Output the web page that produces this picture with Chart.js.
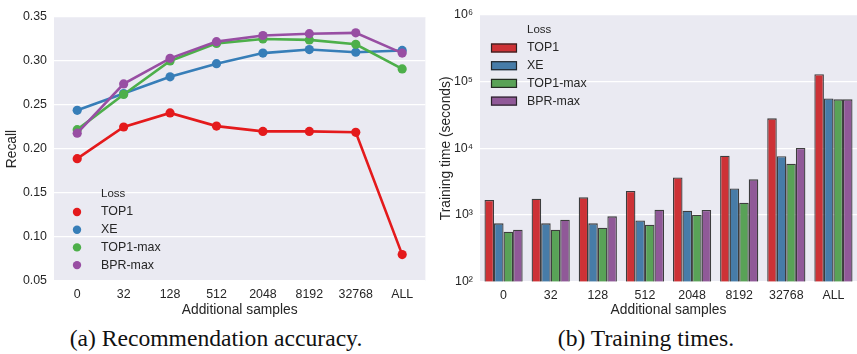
<!DOCTYPE html>
<html>
<head>
<meta charset="utf-8">
<script src="https://cdn.jsdelivr.net/npm/chart.js@4"></script>
<style>
  html, body { margin: 0; padding: 0; background: #ffffff; }
  body { width: 857px; height: 354px; position: relative; overflow: hidden; }
  .box { position: absolute; top: 0; }
  .cap { position: absolute; top: 327px; font-family: 'Liberation Serif', 'Times New Roman', serif; font-size: 23.6px; line-height: 23.6px; color: #111; white-space: nowrap; transform: translateX(-50%); }
</style>
</head>
<body>
<div class="box" style="left:0px;width:430px;height:320px;"><canvas id="c1" width="430" height="320"></canvas></div>
<div class="box" style="left:430px;width:427px;height:320px;"><canvas id="c2" width="427" height="320"></canvas></div>
<div class="cap" style="left:216px;">(a) Recommendation accuracy.</div>
<div class="cap" style="left:646px;">(b) Training times.</div>
<script>
// ---- data ----
const categories = ['0', '32', '128', '512', '2048', '8192', '32768', 'ALL'];
const seriesNames = ['TOP1', 'XE', 'TOP1-max', 'BPR-max'];

const recallTOP1    = [0.189, 0.225, 0.241, 0.226, 0.220, 0.220, 0.219, 0.080];
const recallXE      = [0.244, 0.263, 0.282, 0.297, 0.309, 0.313, 0.310, 0.312];
const recallTOP1max = [0.222, 0.262, 0.300, 0.320, 0.325, 0.324, 0.319, 0.291];
const recallBPRmax  = [0.218, 0.274, 0.303, 0.322, 0.329, 0.331, 0.332, 0.309];

const timeTOP1    = [1680, 1760, 1840, 2290, 3670, 7760, 28200, 129000];
const timeXE      = [750, 750, 750, 830, 1160, 2510, 7600, 56000];
const timeTOP1max = [562, 602, 645, 716, 1010, 1530, 5890, 54300];
const timeBPRmax  = [602, 850, 955, 1200, 1190, 3430, 10100, 54300];

const recallTickValues = [0.05, 0.10, 0.15, 0.20, 0.25, 0.30, 0.35];
const recallTickLabels = ['0.05', '0.10', '0.15', '0.20', '0.25', '0.30', '0.35'];
const timeTickValues = [1e2, 1e3, 1e4, 1e5, 1e6];
const timeTickLabels = ['10\u00B2', '10\u00B3', '10\u2074', '10\u2075', '10\u2076'];

const legendTitle = 'Loss';
const xTitle = 'Additional samples';
const recallTitle = 'Recall';
const timeTitle = 'Training time (seconds)';

// ---- styles ----
const lineColors = ['#e41a1c', '#377eb8', '#4daf4a', '#984ea3'];
const barColors  = ['#cd3236', '#477ca8', '#59a257', '#905998'];
const FONT = "'Liberation Sans', Arial, sans-serif";
const TXT = '#262626';
const BG = '#eaeaf2';

Chart.defaults.font.family = FONT;
Chart.defaults.color = TXT;
Chart.defaults.animation = false;

const bgPlugin = {
  id: 'plotBg',
  beforeDraw(chart) {
    const a = chart.chartArea, ctx = chart.ctx;
    ctx.save();
    ctx.fillStyle = BG;
    ctx.fillRect(a.left, a.top, a.right - a.left, a.bottom - a.top);
    ctx.restore();
  }
};

function legendPlugin(cfg) {
  return {
    id: 'customLegend',
    afterDatasetsDraw(chart) {
      const a = chart.chartArea, ctx = chart.ctx;
      ctx.save();
      ctx.textBaseline = 'middle';
      ctx.textAlign = 'left';
      ctx.fillStyle = TXT;
      ctx.font = '11.5px ' + FONT;
      ctx.fillText(legendTitle, a.left + cfg.textDx, a.top + cfg.titleDy);
      ctx.font = '12.4px ' + FONT;
      chart.data.datasets.forEach((ds, i) => {
        const y = a.top + cfg.firstDy + i * cfg.step;
        if (cfg.kind === 'circle') {
          ctx.beginPath();
          ctx.arc(a.left + cfg.markDx, y, 4.2, 0, Math.PI * 2);
          ctx.fillStyle = ds.borderColor;
          ctx.fill();
        } else {
          ctx.fillStyle = ds.backgroundColor;
          ctx.fillRect(a.left + cfg.markDx - 13, y - 4.5, 26, 9);
          ctx.strokeStyle = 'rgba(30,30,30,0.9)';
          ctx.lineWidth = 1.2;
          ctx.strokeRect(a.left + cfg.markDx - 13 + 0.5, y - 4.5 + 0.5, 25, 8);
        }
        ctx.fillStyle = TXT;
        ctx.fillText(ds.label, a.left + cfg.textDx, y);
      });
      ctx.restore();
    }
  };
}

// ---- chart (a): recall ----
const recallSeries = [recallTOP1, recallXE, recallTOP1max, recallBPRmax];
new Chart(document.getElementById('c1'), {
  type: 'line',
  data: {
    labels: categories,
    datasets: recallSeries.map((d, i) => ({
      label: seriesNames[i],
      data: d,
      borderColor: lineColors[i],
      backgroundColor: lineColors[i],
      pointBackgroundColor: lineColors[i],
      pointBorderColor: lineColors[i],
      pointRadius: 4.6,
      pointBorderWidth: 0,
      borderWidth: 2.6,
      tension: 0,
      order: 3 - i
    }))
  },
  options: {
    responsive: false,
    devicePixelRatio: 1,
    layout: { padding: { left: 0, right: 2, top: 17, bottom: 0 } },
    plugins: { legend: { display: false }, tooltip: { enabled: false } },
    scales: {
      x: {
        offset: true,
        grid: { display: false, drawTicks: false },
        border: { display: false },
        ticks: { padding: 6, font: { size: 12.4 }, color: TXT, maxRotation: 0 },
        title: { display: true, text: xTitle, font: { size: 13.8 }, color: TXT, padding: { top: 0, bottom: 2 } },
        afterFit(s) { s.height = 39; }
      },
      y: {
        min: 0.05, max: 0.35,
        grid: { color: '#ffffff', lineWidth: 1.3, drawTicks: false },
        border: { display: false },
        afterBuildTicks(s) { s.ticks = recallTickValues.map(v => ({ value: v })); },
        ticks: {
          padding: 7, font: { size: 12.4 }, color: TXT,
          callback: (v, i) => recallTickLabels[i]
        },
        title: { display: true, text: recallTitle, font: { size: 13.8 }, color: TXT, padding: { top: 4, bottom: 0 } },
        afterFit(s) { s.width = 54; }
      }
    }
  },
  plugins: [bgPlugin, legendPlugin({ kind: 'circle', markDx: 23, textDx: 47, titleDy: 177, firstDy: 195, step: 17.7 })]
});

// ---- chart (b): training time ----
const timeSeries = [timeTOP1, timeXE, timeTOP1max, timeBPRmax];
new Chart(document.getElementById('c2'), {
  type: 'bar',
  data: {
    labels: categories,
    datasets: timeSeries.map((d, i) => ({
      label: seriesNames[i],
      data: d,
      backgroundColor: barColors[i],
      borderColor: 'rgba(30,30,30,0.85)',
      borderWidth: 1.3,
      categoryPercentage: 0.81,
      barPercentage: 1.0
    }))
  },
  options: {
    responsive: false,
    devicePixelRatio: 1,
    layout: { padding: { left: 0, right: 0, top: 15, bottom: 0 } },
    plugins: { legend: { display: false }, tooltip: { enabled: false } },
    scales: {
      x: {
        grid: { display: false, drawTicks: false },
        border: { display: false },
        ticks: { padding: 6, font: { size: 12.4 }, color: TXT, maxRotation: 0 },
        title: { display: true, text: xTitle, font: { size: 13.8 }, color: TXT, padding: { top: 0, bottom: 2 } },
        afterFit(s) { s.height = 38.3; }
      },
      y: {
        type: 'logarithmic',
        min: 100, max: 1e6,
        grid: { color: '#ffffff', lineWidth: 1.3, drawTicks: false },
        border: { display: false },
        afterBuildTicks(s) { s.ticks = timeTickValues.map(v => ({ value: v })); },
        ticks: {
          padding: 7, font: { size: 12.4 }, color: TXT,
          callback: (v, i) => timeTickLabels[i]
        },
        title: { display: true, text: timeTitle, font: { size: 13.8 }, color: TXT, padding: { top: 8, bottom: 0 } },
        afterFit(s) { s.width = 50; }
      }
    }
  },
  plugins: [bgPlugin, legendPlugin({ kind: 'rect', markDx: 24, textDx: 47, titleDy: 15, firstDy: 33, step: 17.7 })]
});
</script>
</body>
</html>
